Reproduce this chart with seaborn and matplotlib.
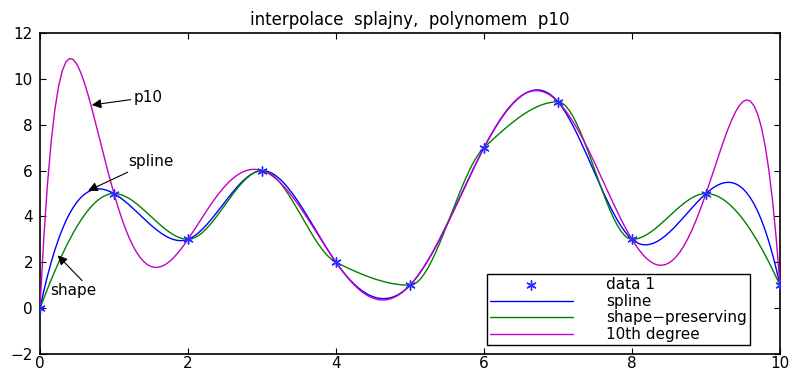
import numpy as np
import pandas as pd
import matplotlib
matplotlib.use("Agg")
import matplotlib.pyplot as plt
import seaborn as sns

# Measured samples
x_data = [0, 1, 2, 3, 4, 5, 6, 7, 8, 9, 10]
y_data = [0, 5, 3, 6, 2, 1, 7, 9, 3, 5, 1]
series_names = ["spline", "shape\u2212preserving", "10th degree"]
series_colors = ["#0000ff", "#008000", "#c400c4"]
title_text = "interpolace  splajny,  polynomem  p10"
x_ticks = [0, 2, 4, 6, 8, 10]
y_ticks = [-2, 0, 2, 4, 6, 8, 10, 12]


def spline_not_a_knot(x, y, xq):
    x = np.asarray(x, float); y = np.asarray(y, float)
    n = len(x) - 1
    A = np.zeros((4 * n, 4 * n)); b = np.zeros(4 * n)
    r = 0
    for i in range(n):
        h = x[i + 1] - x[i]
        A[r, 4 * i] = 1; b[r] = y[i]; r += 1
        A[r, 4 * i:4 * i + 4] = [1, h, h ** 2, h ** 3]; b[r] = y[i + 1]; r += 1
    for i in range(n - 1):
        h = x[i + 1] - x[i]
        A[r, 4 * i:4 * i + 4] = [0, 1, 2 * h, 3 * h ** 2]; A[r, 4 * (i + 1) + 1] = -1; r += 1
        A[r, 4 * i:4 * i + 4] = [0, 0, 2, 6 * h]; A[r, 4 * (i + 1) + 2] = -2; r += 1
    A[r, 3] = 1; A[r, 7] = -1; r += 1
    A[r, 4 * (n - 2) + 3] = 1; A[r, 4 * (n - 1) + 3] = -1; r += 1
    c = np.linalg.solve(A, b).reshape(n, 4)
    idx = np.clip(np.searchsorted(x, xq, side="right") - 1, 0, n - 1)
    t = xq - x[idx]
    return c[idx, 0] + c[idx, 1] * t + c[idx, 2] * t ** 2 + c[idx, 3] * t ** 3


def pchip(x, y, xq):
    x = np.asarray(x, float); y = np.asarray(y, float)
    h = np.diff(x); delta = np.diff(y) / h
    n = len(x)
    d = np.zeros(n)
    for k in range(1, n - 1):
        if np.sign(delta[k - 1]) * np.sign(delta[k]) > 0:
            w1 = 2 * h[k] + h[k - 1]; w2 = h[k] + 2 * h[k - 1]
            d[k] = (w1 + w2) / (w1 / delta[k - 1] + w2 / delta[k])

    def end_slope(h0, h1, d0, d1):
        s = ((2 * h0 + h1) * d0 - h0 * d1) / (h0 + h1)
        if np.sign(s) != np.sign(d0):
            s = 0.0
        elif np.sign(d0) != np.sign(d1) and abs(s) > abs(3 * d0):
            s = 3 * d0
        return s

    d[0] = end_slope(h[0], h[1], delta[0], delta[1])
    d[-1] = end_slope(h[-1], h[-2], delta[-1], delta[-2])
    idx = np.clip(np.searchsorted(x, xq, side="right") - 1, 0, n - 2)
    hh = h[idx]; t = (xq - x[idx]) / hh
    h00 = 2 * t ** 3 - 3 * t ** 2 + 1; h10 = t ** 3 - 2 * t ** 2 + t
    h01 = -2 * t ** 3 + 3 * t ** 2; h11 = t ** 3 - t ** 2
    return h00 * y[idx] + h10 * hh * d[idx] + h01 * y[idx + 1] + h11 * hh * d[idx + 1]


xq = np.linspace(0, 10, 201)
curves = [
    spline_not_a_knot(x_data, y_data, xq),
    pchip(x_data, y_data, xq),
    np.polyval(np.polyfit(x_data, y_data, 10), xq),
]
long_df = pd.concat(
    [pd.DataFrame({"x": xq, "y": c, "fit": name}) for name, c in zip(series_names, curves)],
    ignore_index=True,
)
points_df = pd.DataFrame({"x": x_data, "y": y_data})

sns.set_style("ticks")
plt.rcParams["font.family"] = ["DejaVu Sans"]
plt.rcParams["xtick.direction"] = "in"
plt.rcParams["ytick.direction"] = "in"
for key in ["text.color", "axes.labelcolor", "xtick.color", "ytick.color",
            "xtick.labelcolor", "ytick.labelcolor"]:
    plt.rcParams[key] = "black"

FS = 11

fig = plt.figure(figsize=(7.93, 3.70), dpi=100)
ax = fig.add_axes([0.0504, 0.0432, 0.9332, 0.8676])

# asterisk marker: six-spoke star drawn as lines
sns.scatterplot(data=points_df, x="x", y="y", marker=(6, 2, 0), s=45, color="#2a2aff",
                linewidth=1.0, edgecolor="#2a2aff", ax=ax, label="data 1", zorder=5)
sns.lineplot(data=long_df, x="x", y="y", hue="fit", palette=series_colors,
             hue_order=series_names, linewidth=1.0, ax=ax, sort=False, zorder=3)

ax.set_xlim(0, 10)
ax.set_ylim(-2, 12)
ax.set_xticks(x_ticks)
ax.set_yticks(y_ticks)
ax.set_xlabel("")
ax.set_ylabel("")
ax.set_title(title_text, fontsize=12, pad=6, color="black")
for s in ax.spines.values():
    s.set_visible(True)
    s.set_linewidth(1.2)
    s.set_color("black")
ax.tick_params(axis="both", which="both", top=True, right=True, labelsize=FS,
               length=4, width=0.8, colors="black")
ax.tick_params(axis="x", pad=1.5)
ax.tick_params(axis="y", pad=5)

arrow_kw = dict(arrowstyle="-|>", color="black", lw=0.8, mutation_scale=14,
                shrinkA=0, shrinkB=0)
ax.annotate("p10", xy=(0.70, 8.86), xytext=(1.27, 9.2), fontsize=FS,
            va="center", ha="left", arrowprops=arrow_kw)
ax.annotate("spline", xy=(0.65, 5.12), xytext=(1.19, 6.4), fontsize=FS,
            va="center", ha="left", arrowprops=arrow_kw)
ax.annotate("shape", xy=(0.24, 2.3), xytext=(0.14, 0.78), fontsize=FS,
            va="center", ha="left")
ax.annotate("", xy=(0.24, 2.3), xytext=(0.57, 1.2), arrowprops=arrow_kw)

leg = ax.legend(loc="lower right", bbox_to_anchor=(0.9595, 0.028), fontsize=FS,
                frameon=True, fancybox=False, edgecolor="black", framealpha=1,
                handlelength=5.4, borderpad=0.2, labelspacing=0.1,
                handletextpad=2.2, borderaxespad=0)
leg.get_frame().set_linewidth(1.0)
for t in leg.get_texts():
    t.set_color("black")

fig.savefig("out.png", dpi=100)
